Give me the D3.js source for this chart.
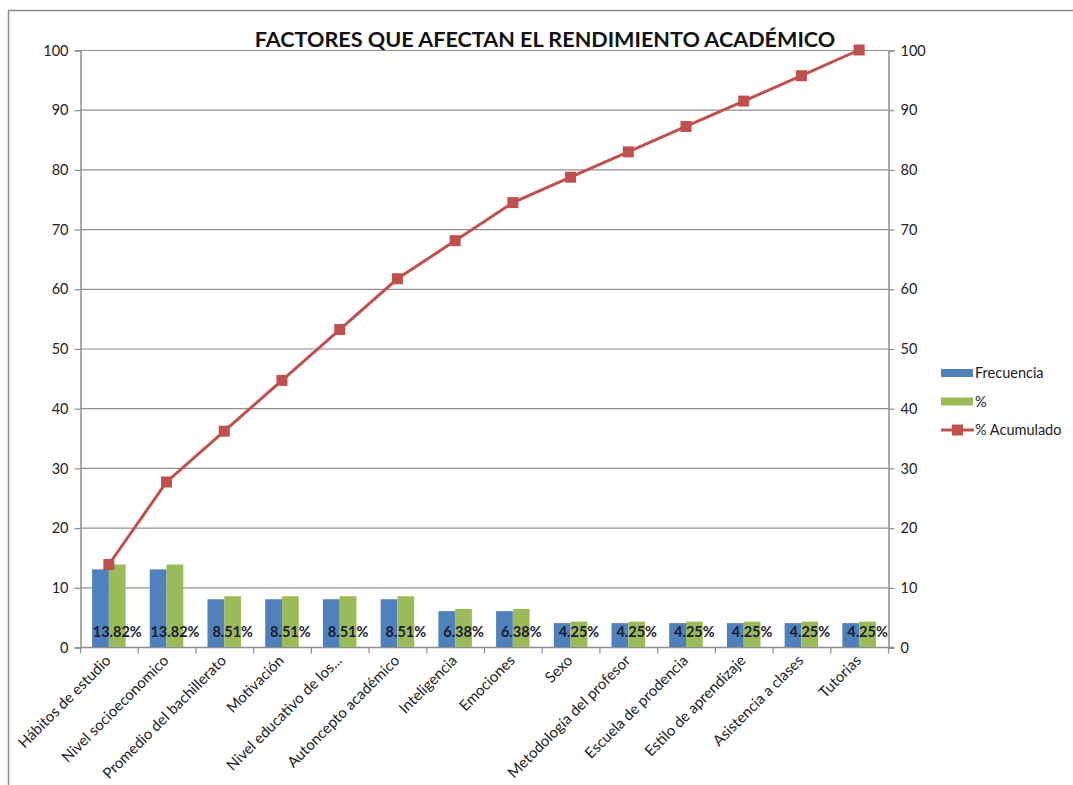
<!DOCTYPE html>
<html>
<head>
<meta charset="utf-8">
<script src="https://cdn.jsdelivr.net/npm/d3@7"></script>
<style>
  body { margin: 0; background: #fff; }
  svg text { font-family: Lato, "Open Sans", sans-serif; }
</style>
</head>
<body>
<div id="container"></div>
<script>
// data
var categories = ["Hábitos de estudio", "Nivel socioeconomico", "Promedio del bachillerato",
  "Motivación", "Nivel educativo de los...", "Autoncepto académico", "Inteligencia",
  "Emociones", "Sexo", "Metodología del profesor", "Escuela de prodencia",
  "Estilo de aprendizaje", "Asistencia a clases", "Tutorias"];
var frecuencia = [13, 13, 8, 8, 8, 8, 6, 6, 4, 4, 4, 4, 4, 4];
var porcentaje = [13.82, 13.82, 8.51, 8.51, 8.51, 8.51, 6.38, 6.38, 4.25, 4.25, 4.25, 4.25, 4.25, 4.25];
var acumulado = [13.82, 27.64, 36.15, 44.66, 53.17, 61.68, 68.06, 74.44, 78.69, 82.94, 87.19, 91.44, 95.69, 100];
var yTicks = [0, 10, 20, 30, 40, 50, 60, 70, 80, 90, 100];
var seriesNames = ["Frecuencia", "%", "% Acumulado"];
var colors = { blue: "#4f81bd", green: "#9bbb59", red: "#c0504d" };

var W = 1073, H = 785;
var plotL = 80, plotR = 888, plotT = 50, plotB = 647;

var svg = d3.select("#container").append("svg")
  .attr("width", W).attr("height", H);

// outer frame
svg.append("rect")
  .attr("x", 8.5).attr("y", 10.5)
  .attr("width", W + 10).attr("height", H + 10)
  .attr("fill", "none").attr("stroke", "#8c8c8c").attr("stroke-width", 1.5);

var x = d3.scaleBand().domain(categories).range([plotL, plotR]);
var xi = d3.scaleBand().domain([0, 1]).range([0, x.bandwidth()]).paddingOuter(0.72).paddingInner(0);
var y = d3.scaleLinear().domain([0, 100]).range([plotB, plotT]);

// gridlines
svg.append("g")
  .selectAll("line")
  .data(yTicks.filter(d => d > 0))
  .enter().append("line")
  .attr("x1", plotL).attr("x2", plotR)
  .attr("y1", d => y(d) + 0.5).attr("y2", d => y(d) + 0.5)
  .attr("stroke", "#8f8f8f").attr("stroke-width", 1.2);

// axes
var yl = svg.append("g")
  .attr("transform", "translate(" + (plotL + 0.5) + ",0.5)")
  .call(d3.axisLeft(y).tickValues(yTicks).tickSize(6).tickPadding(6));
var yr = svg.append("g")
  .attr("transform", "translate(" + (plotR + 0.5) + ",0.5)")
  .call(d3.axisRight(y).tickValues(yTicks).tickSize(6).tickPadding(6));
[yl, yr].forEach(function (g) {
  g.select(".domain").attr("stroke", "#8f8f8f").attr("stroke-width", 1.5);
  g.selectAll(".tick line").attr("stroke", "#8f8f8f").attr("stroke-width", 1.2);
  g.selectAll("text").attr("font-size", 14.5).attr("fill", "#222")
    .style("font-family", "Lato, sans-serif");
});

var xa = svg.append("g")
  .attr("transform", "translate(0," + (plotB + 0.5) + ")");
xa.append("line").attr("x1", plotL).attr("x2", plotR + 6)
  .attr("stroke", "#8f8f8f").attr("stroke-width", 1.5);
xa.selectAll(".tk")
  .data(categories.concat(["end"]))
  .enter().append("line")
  .attr("x1", (d, i) => plotL + i * x.step() + 0.5)
  .attr("x2", (d, i) => plotL + i * x.step() + 0.5)
  .attr("y1", 0).attr("y2", 6)
  .attr("stroke", "#8f8f8f").attr("stroke-width", 1.2);
xa.selectAll(".lbl")
  .data(categories)
  .enter().append("text")
  .attr("transform", d => "translate(" + (x(d) + x.bandwidth() / 2 + 3) + ",14) rotate(-45)")
  .attr("text-anchor", "end")
  .attr("font-size", 15)
  .attr("fill", "#222")
  .text(d => d);

// bars
var groups = svg.append("g").selectAll("g")
  .data(categories)
  .enter().append("g")
  .attr("transform", d => "translate(" + x(d) + ",0)");

groups.append("rect")
  .attr("x", xi(0)).attr("width", xi.bandwidth())
  .attr("y", (d, i) => y(frecuencia[i]))
  .attr("height", (d, i) => y(0) - y(frecuencia[i]))
  .attr("fill", colors.blue);

groups.append("rect")
  .attr("x", xi(1)).attr("width", xi.bandwidth())
  .attr("y", (d, i) => y(porcentaje[i]))
  .attr("height", (d, i) => y(0) - y(porcentaje[i]))
  .attr("fill", colors.green);

// data labels of %
groups.append("text")
  .attr("x", xi(1) + xi.bandwidth() / 2)
  .attr("y", plotB - 10)
  .attr("text-anchor", "middle")
  .attr("font-size", 14.5)
  .attr("font-weight", "bold")
  .attr("fill", "#1b1b33")
  .text((d, i) => porcentaje[i].toFixed(2) + "%");

// cumulative line
var line = d3.line()
  .x((d, i) => x(categories[i]) + x.bandwidth() / 2)
  .y(d => y(d));
svg.append("path")
  .datum(acumulado)
  .attr("d", line)
  .attr("fill", "none")
  .attr("stroke", colors.red)
  .attr("stroke-width", 3);
svg.append("g").selectAll("rect")
  .data(acumulado)
  .enter().append("rect")
  .attr("x", (d, i) => x(categories[i]) + x.bandwidth() / 2 - 5.5)
  .attr("y", d => y(d) - 5.5)
  .attr("width", 11).attr("height", 11)
  .attr("fill", colors.red);

// title
svg.append("text")
  .attr("x", 545).attr("y", 47)
  .attr("text-anchor", "middle")
  .attr("font-size", 21.6)
  .attr("font-weight", "bold")
  .attr("fill", "#111")
  .text("FACTORES QUE AFECTAN EL RENDIMIENTO ACADÉMICO");

// legend
var lg = svg.append("g").attr("transform", "translate(941,373)");
var items = lg.selectAll("g")
  .data(seriesNames)
  .enter().append("g")
  .attr("transform", (d, i) => "translate(0," + i * 28.5 + ")");
items.filter((d, i) => i < 2).append("rect")
  .attr("x", 0).attr("y", -4).attr("width", 32).attr("height", 8)
  .attr("fill", (d, i) => i === 0 ? colors.blue : colors.green);
items.filter((d, i) => i === 2).append("line")
  .attr("x1", 0).attr("x2", 33).attr("y1", 0).attr("y2", 0)
  .attr("stroke", colors.red).attr("stroke-width", 3);
items.filter((d, i) => i === 2).append("rect")
  .attr("x", 11).attr("y", -5.5).attr("width", 11).attr("height", 11)
  .attr("fill", colors.red);
items.append("text")
  .attr("x", 34).attr("y", 5)
  .attr("font-size", 14.5)
  .attr("fill", "#222")
  .text(d => d);
</script>
</body>
</html>
